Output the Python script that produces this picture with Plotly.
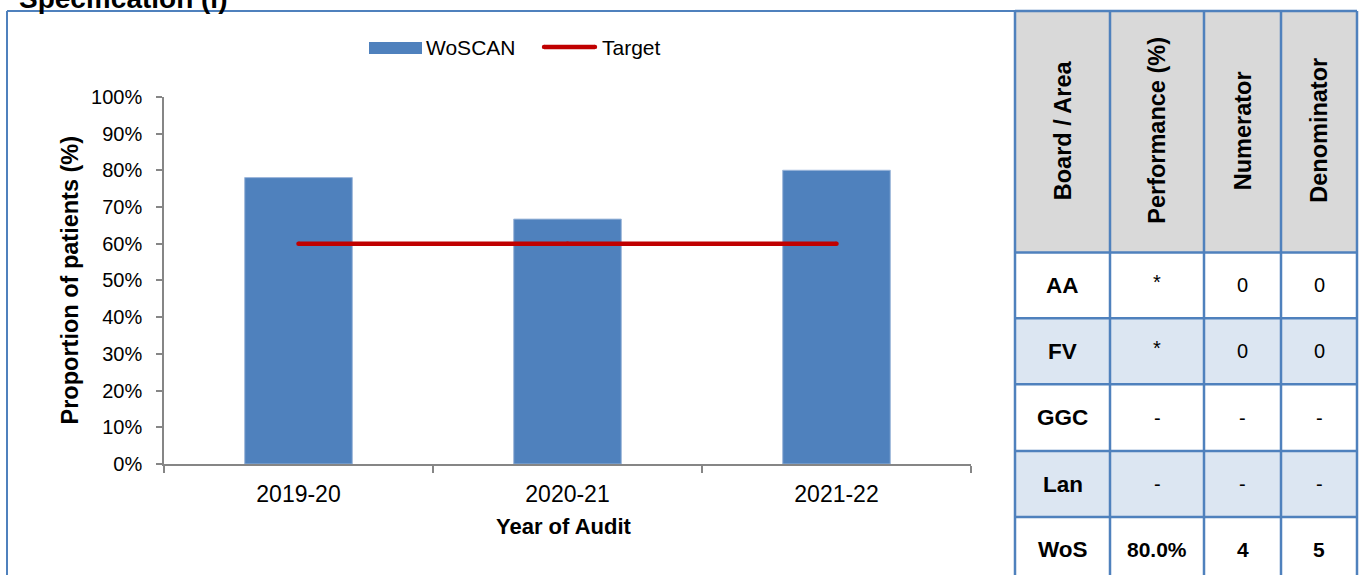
import plotly.graph_objects as go

# ---- chart data ----
years = ["2019-20", "2020-21", "2021-22"]
woscan = [0.78, 0.667, 0.80]
target = [0.60, 0.60, 0.60]
y_ticks = [0, 0.1, 0.2, 0.3, 0.4, 0.5, 0.6, 0.7, 0.8, 0.9, 1.0]

# ---- table data ----
table_headers = ["Board / Area", "Performance (%)", "Numerator", "Denominator"]
boards = ["AA", "FV", "GGC", "Lan", "WoS"]
performance = ["*", "*", "-", "-", "80.0%"]
numerator = ["0", "0", "-", "-", "4"]
denominator = ["0", "0", "-", "-", "5"]

W, H = 1360, 595      # figure size
Y_OFF = 9             # screen rows above the figure
Y_SCALE = 0.965       # screen rows per figure pixel
FONT = "Liberation Sans, Arial, sans-serif"
BLUE = "#4F81BD"
BAR = "#4F81BD"
RED = "#C00000"
AXIS = "#868686"


def px(x):
    return x / W


def py(y):
    # screen row -> paper fraction
    return 1 - ((y - Y_OFF) / Y_SCALE) / H


fig = go.Figure()
fig.add_trace(go.Bar(x=years, y=woscan, name="WoSCAN", marker_color=BAR,
                     marker_line=dict(color="#9DB7DA", width=1), width=0.4,
                     showlegend=False))
# target line; small round markers give it rounded ends
fig.add_trace(go.Scatter(x=years, y=target, name="Target", mode="lines+markers",
                         line=dict(color=RED, width=4.5),
                         marker=dict(color=RED, size=4.5, line=dict(width=0)),
                         showlegend=False))

shapes = []
annotations = []

# outer frame of the chart panel
shapes.append(dict(type="line", xref="paper", yref="paper", x0=px(7), x1=px(1015),
                   y0=py(9), y1=py(9), line=dict(color=BLUE, width=2)))
shapes.append(dict(type="line", xref="paper", yref="paper", x0=px(7), x1=px(7),
                   y0=py(9), y1=py(620), line=dict(color=BLUE, width=2)))

# heading above the frame
annotations.append(dict(text="<b>Specification (i)</b>", xref="paper", yref="paper",
                        x=px(17), y=py(-4), xanchor="left", yanchor="middle",
                        showarrow=False, font=dict(size=28, color="black", family=FONT)))

# legend
shapes.append(dict(type="rect", xref="paper", yref="paper", x0=px(369), x1=px(422),
                   y0=py(52), y1=py(40), fillcolor=BAR, line=dict(width=0)))
annotations.append(dict(text="WoSCAN", xref="paper", yref="paper", x=px(424), y=py(46),
                        xanchor="left", yanchor="middle", showarrow=False,
                        font=dict(size=21, color="black", family=FONT)))
shapes.append(dict(type="line", xref="paper", yref="paper", x0=px(544), x1=px(595),
                   y0=py(45), y1=py(45), line=dict(color=RED, width=4.5)))
for cx in (544, 595):
    shapes.append(dict(type="circle", xref="paper", yref="paper",
                       x0=px(cx - 2.2), x1=px(cx + 2.2), y0=py(47.2), y1=py(42.8),
                       fillcolor=RED, line=dict(width=0)))
annotations.append(dict(text="Target", xref="paper", yref="paper", x=px(600), y=py(46),
                        xanchor="left", yanchor="middle", showarrow=False,
                        font=dict(size=21, color="black", family=FONT)))

# axis titles
annotations.append(dict(text="<b>Proportion of patients (%)</b>", xref="paper", yref="paper",
                        x=px(70), y=py(279), xanchor="center", yanchor="middle",
                        textangle=-90, showarrow=False,
                        font=dict(size=23.5, color="black", family=FONT)))
annotations.append(dict(text="<b>Year of Audit</b>", xref="paper", yref="paper",
                        x=px(564), y=py(526), xanchor="center", yanchor="middle",
                        showarrow=False, font=dict(size=22, color="black", family=FONT)))

# ---- table ----
col_edges = [1015, 1110, 1204, 1281, 1357]
row_edges = [9, 251, 317, 383, 450, 516, 620]
row_fills = ["white", "#DCE6F2", "white", "#DCE6F2", "white"]

# header cells
for c in range(4):
    shapes.append(dict(type="rect", xref="paper", yref="paper",
                       x0=px(col_edges[c]), x1=px(col_edges[c + 1]),
                       y0=py(row_edges[1]), y1=py(row_edges[0]),
                       fillcolor="#D9D9D9", line=dict(width=0), layer="below"))
    annotations.append(dict(text="<b>%s</b>" % table_headers[c], xref="paper", yref="paper",
                            x=px((col_edges[c] + col_edges[c + 1]) / 2),
                            y=py(129),
                            xanchor="center", yanchor="middle", textangle=-90,
                            showarrow=False, font=dict(size=23.5, color="black", family=FONT)))

columns = [boards, performance, numerator, denominator]
for r in range(len(boards)):
    for c in range(4):
        shapes.append(dict(type="rect", xref="paper", yref="paper",
                           x0=px(col_edges[c]), x1=px(col_edges[c + 1]),
                           y0=py(row_edges[r + 2]), y1=py(row_edges[r + 1]),
                           fillcolor=row_fills[r], line=dict(width=0), layer="below"))
        val = columns[c][r]
        total_row = boards[r] == "WoS"
        if c == 0:
            txt, size = "<b>%s</b>" % val, 22.5
        elif total_row:
            txt, size = "<b>%s</b>" % val, 21
        else:
            txt, size = val, 20
        cy = (row_edges[r + 1] + row_edges[r + 2]) / 2 if r < 4 else 549
        annotations.append(dict(text=txt, xref="paper", yref="paper",
                                x=px((col_edges[c] + col_edges[c + 1]) / 2),
                                y=py(cy - 3 if val == "*" else cy),
                                xanchor="center", yanchor="middle", showarrow=False,
                                font=dict(size=size, color="black", family=FONT)))

# grid lines of the table
for x in col_edges:
    shapes.append(dict(type="line", xref="paper", yref="paper", x0=px(x), x1=px(x),
                       y0=py(row_edges[0]), y1=py(row_edges[-1]),
                       line=dict(color=BLUE, width=2.5)))
for y in row_edges[:-1]:
    shapes.append(dict(type="line", xref="paper", yref="paper", x0=px(col_edges[0]),
                       x1=px(col_edges[-1]), y0=py(y), y1=py(y),
                       line=dict(color=BLUE, width=2.5)))

fig.update_layout(
    width=W, height=H,
    margin=dict(l=0, r=0, t=0, b=0),
    paper_bgcolor="white", plot_bgcolor="white",
    font=dict(family=FONT, size=20, color="black"),
    showlegend=False,
    shapes=shapes,
    annotations=annotations,
    xaxis=dict(domain=[px(164), px(971)], range=[-0.5, 2.5], type="category",
               showline=True, linecolor=AXIS, linewidth=1.5,
               ticks="outside", tickson="boundaries", ticklen=7, tickcolor=AXIS,
               tickwidth=1.5, showgrid=False, zeroline=False, ticklabelstandoff=9,
               tickfont=dict(size=23, color="black", family=FONT)),
    yaxis=dict(domain=[py(463), py(95)], range=[0, 1], tickvals=y_ticks,
               tickformat=".0%", showline=True, linecolor=AXIS, linewidth=1.5,
               ticks="outside", ticklen=6, tickcolor=AXIS, tickwidth=1.5,
               showgrid=False, zeroline=False, ticklabelstandoff=10,
               tickfont=dict(size=20, color="black", family=FONT)),
)

fig.write_html("out.html")
